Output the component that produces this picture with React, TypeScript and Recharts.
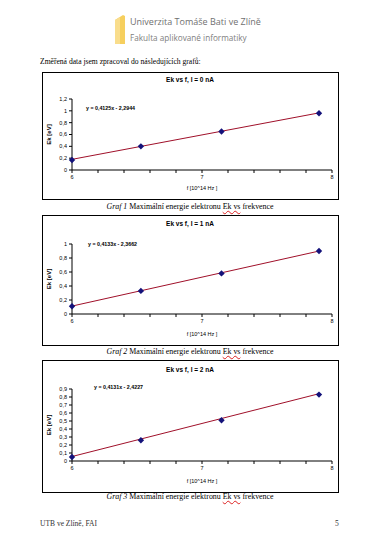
import React from 'react';
import { ComposedChart, Line, Scatter, XAxis, YAxis } from 'recharts';

// measured points, f in 10^14 Hz, Ek in eV
const freqs = [6.0, 6.53, 7.15, 7.9];
const energy0nA = [0.17, 0.4, 0.65, 0.96];
const energy1nA = [0.11, 0.33, 0.58, 0.9];
const energy2nA = [0.05, 0.26, 0.51, 0.83];

// linear trend end points
const trendFreqs = [6.0, 7.9];
const trend0nA = [0.18, 0.965];
const trend1nA = [0.113, 0.899];
const trend2nA = [0.056, 0.841];

const xTicks = [6, 6.2, 6.4, 6.6, 6.8, 7, 7.2, 7.4, 7.6, 7.8, 8];
const yTicks0nA = [0, 0.2, 0.4, 0.6, 0.8, 1, 1.2];
const yTicks1nA = [0, 0.2, 0.4, 0.6, 0.8, 1];
const yTicks2nA = [0, 0.1, 0.2, 0.3, 0.4, 0.5, 0.6, 0.7, 0.8, 0.9];

const titles = ['Ek vs f, I = 0 nA', 'Ek vs f, I = 1 nA', 'Ek vs f, I = 2 nA'];
const equations = ['y = 0,4125x - 2,2944', 'y = 0,4133x - 2,3662', 'y = 0,4131x - 2,4227'];

const SANS = '"Liberation Sans", Arial, sans-serif';
const SERIF = '"Liberation Serif", "Times New Roman", serif';

const toRows = (xs: number[], ys: number[]) => xs.map((f, i) => ({ f, e: ys[i] }));

const Diamond = (props: any) => {
  const { cx, cy } = props;
  const r = 3.2;
  return <path d={`M${cx},${cy - r}L${cx + r},${cy}L${cx},${cy + r}L${cx - r},${cy}Z`} fill="#14127a" />;
};

const YLabel = ({ viewBox }: any) => {
  const cx = viewBox.x + 7;
  const cy = viewBox.y + viewBox.height / 2;
  return (
    <text x={cx} y={cy} transform={`rotate(-90 ${cx} ${cy})`} textAnchor="middle" dominantBaseline="central"
      fontSize={6} fontWeight="bold" fontFamily={SANS} fill="#000">
      Ek [eV]
    </text>
  );
};

const fmtY = (v: number) => String(Number(v.toFixed(1))).replace('.', ',');
const fmtX = (v: number) => (Math.abs(v - Math.round(v)) < 1e-6 ? String(Math.round(v)) : '');

interface PanelProps {
  top: number;
  height: number;
  plotTop: number;
  plotBottom: number;
  points: number[];
  trend: number[];
  yTicks: number[];
  title: string;
  titleY: number;
  eq: string;
  eqX: number;
  eqY: number;
  num: number;
  captionY: number;
}

const Panel = (p: PanelProps) => {
  const tick = { fontSize: 5.5, fill: '#000', fontFamily: SANS };
  return (
    <>
      <div style={{ position: 'absolute', left: 42, top: p.top, width: 295, height: p.height - 1, border: '1px solid #000' }} />
      <div style={{ position: 'absolute', left: 42, top: p.top, width: 296 }}>
        <ComposedChart width={296} height={p.height} margin={{ top: p.plotTop - p.top, right: 6, left: 0, bottom: 0 }}>
          <XAxis type="number" dataKey="f" domain={[6, 8]} ticks={xTicks} tickFormatter={fmtX} tick={tick}
            tickSize={3} tickMargin={2} stroke="#000" interval={0} height={p.top + p.height - p.plotBottom}
            label={{ value: 'f [10^14 Hz ]', position: 'insideBottom', offset: 9, fontSize: 5.5, fill: '#000', fontFamily: SANS }} />
          <YAxis type="number" dataKey="e" domain={[0, p.yTicks[p.yTicks.length - 1]]} ticks={p.yTicks} tickFormatter={fmtY}
            tick={tick} tickSize={3} tickMargin={2} stroke="#000" width={30} interval={0} label={<YLabel />} />
          <Line data={toRows(trendFreqs, p.trend)} dataKey="e" stroke="#a0102a" strokeWidth={1} dot={false}
            isAnimationActive={false} />
          <Scatter data={toRows(freqs, p.points)} dataKey="e" shape={<Diamond />} isAnimationActive={false} />
        </ComposedChart>
      </div>
      <div style={{ position: 'absolute', left: 42, width: 296, top: p.titleY - 4, textAlign: 'center', fontFamily: SANS, fontSize: 6.5, fontWeight: 'bold', lineHeight: '8px' }}>
        {p.title}
      </div>
      <div style={{ position: 'absolute', left: p.eqX, top: p.eqY - 3.5, fontFamily: SANS, fontSize: 5.3, fontWeight: 'bold', lineHeight: '7px', whiteSpace: 'nowrap' }}>
        {p.eq}
      </div>
      <div style={{ position: 'absolute', left: 42, width: 296, top: p.captionY - 5, textAlign: 'center', fontFamily: SERIF, fontSize: 7.9, lineHeight: '10px', whiteSpace: 'nowrap' }}>
        <i>Graf {p.num}</i> Maximální energie elektronu <span style={{ textDecoration: 'underline wavy #d22', textDecorationThickness: '0.5px' }}>Ek vs</span> frekvence
      </div>
    </>
  );
};

export default function App() {
  return (
    <div style={{ position: 'absolute', left: 0, top: 0, width: 386, height: 552, background: '#fff', overflow: 'hidden', color: '#000' }}>
      <svg style={{ position: 'absolute', left: 112, top: 14 }} width={16} height={32}>
        <polygon points="3,6 11,1 13,2 13,30 3,30" fill="#f6cf5e" />
        <polygon points="3,6 8,3 8,30 3,30" fill="#f9dd8c" />
      </svg>
      <div style={{ position: 'absolute', left: 130, top: 16, fontFamily: '"Open Sans", sans-serif', fontSize: 9, color: '#707070', lineHeight: '12px', whiteSpace: 'nowrap' }}>
        Univerzita Tomáše Bati ve Zlíně
      </div>
      <div style={{ position: 'absolute', left: 130, top: 32, fontFamily: '"Open Sans", sans-serif', fontSize: 8.2, color: '#808080', lineHeight: '12px', whiteSpace: 'nowrap' }}>
        Fakulta aplikované informatiky
      </div>
      <div style={{ position: 'absolute', left: 40, top: 57, fontFamily: SERIF, fontSize: 7.6, lineHeight: '10px', whiteSpace: 'nowrap' }}>
        Změřená data jsem zpracoval do následujících grafů:
      </div>

      <Panel top={72} height={127} plotTop={99} plotBottom={170} points={energy0nA} trend={trend0nA} yTicks={yTicks0nA}
        title={titles[0]} titleY={80} eq={equations[0]} eqX={86} eqY={108} num={1} captionY={207} />
      <Panel top={215} height={130} plotTop={244} plotBottom={314} points={energy1nA} trend={trend1nA} yTicks={yTicks1nA}
        title={titles[1]} titleY={224} eq={equations[1]} eqX={88} eqY={244} num={2} captionY={352} />
      <Panel top={360} height={132} plotTop={389} plotBottom={461} points={energy2nA} trend={trend2nA} yTicks={yTicks2nA}
        title={titles[2]} titleY={370} eq={equations[2]} eqX={94} eqY={387} num={3} captionY={497} />

      <div style={{ position: 'absolute', left: 40, top: 519, fontFamily: SERIF, fontSize: 7.5, lineHeight: '10px', color: '#333' }}>
        UTB ve Zlíně, FAI
      </div>
      <div style={{ position: 'absolute', left: 335, top: 519, fontFamily: SERIF, fontSize: 7.5, lineHeight: '10px', color: '#333' }}>
        5
      </div>
    </div>
  );
}
